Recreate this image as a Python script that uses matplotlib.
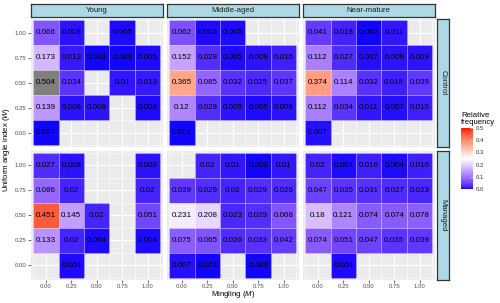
import numpy as np
import matplotlib
matplotlib.use("Agg")
import matplotlib.pyplot as plt
from matplotlib.colors import ListedColormap
from matplotlib.patches import Rectangle
from matplotlib.cm import ScalarMappable
from matplotlib.colors import Normalize

plt.rcParams['font.family'] = ['Liberation Sans', 'DejaVu Sans']
plt.rcParams['mathtext.fontset'] = 'custom'
plt.rcParams['mathtext.rm'] = 'Liberation Sans'
plt.rcParams['mathtext.it'] = 'Liberation Sans:italic'

mingling = [0.0, 0.25, 0.5, 0.75, 1.0]
uai = [1.0, 0.75, 0.5, 0.25, 0.0]   # rows top to bottom
stands = ["Young", "Middle-aged", "Near-mature"]
treatments = ["Control", "Managed"]
nan = np.nan

control_young = [
    [0.066, 0.008, nan, 0.005, nan],
    [0.173, 0.013, 0.003, 0.003, 0.005],
    [0.504, 0.034, nan, 0.01, 0.013],
    [0.139, 0.008, 0.008, nan, 0.005],
    [0.003, nan, nan, nan, nan],
]
control_middle = [
    [0.062, 0.005, 0.005, nan, nan],
    [0.152, 0.028, 0.005, 0.009, 0.016],
    [0.365, 0.085, 0.032, 0.025, 0.037],
    [0.12, 0.028, 0.009, 0.005, 0.009],
    [0.002, nan, nan, nan, nan],
]
control_near = [
    [0.041, 0.018, 0.002, 0.011, nan],
    [0.112, 0.027, 0.007, 0.009, 0.009],
    [0.374, 0.114, 0.032, 0.016, 0.039],
    [0.112, 0.034, 0.011, 0.007, 0.016],
    [0.007, nan, nan, nan, nan],
]
managed_young = [
    [0.027, 0.008, nan, nan, 0.008],
    [0.086, 0.02, nan, nan, 0.02],
    [0.451, 0.145, 0.02, nan, 0.051],
    [0.133, 0.02, 0.004, nan, 0.004],
    [nan, 0.004, nan, nan, nan],
]
managed_middle = [
    [nan, 0.02, 0.01, 0.003, 0.01],
    [0.039, 0.029, 0.02, 0.029, 0.026],
    [0.231, 0.208, 0.023, 0.029, 0.068],
    [0.075, 0.065, 0.026, 0.033, 0.042],
    [0.007, 0.003, nan, 0.003, nan],
]
managed_near = [
    [0.02, 0.004, 0.016, 0.004, 0.016],
    [0.047, 0.035, 0.031, 0.027, 0.023],
    [0.18, 0.121, 0.074, 0.074, 0.078],
    [0.074, 0.051, 0.047, 0.035, 0.039],
    [nan, 0.004, nan, nan, nan],
]
panels = {
    ("Control", "Young"): control_young,
    ("Control", "Middle-aged"): control_middle,
    ("Control", "Near-mature"): control_near,
    ("Managed", "Young"): managed_young,
    ("Managed", "Middle-aged"): managed_middle,
    ("Managed", "Near-mature"): managed_near,
}

# ---- Lab-interpolated diverging colormap (blue - white - red), like gradient2
def srgb_to_lab(c):
    c = np.asarray(c, float)
    lin = np.where(c <= 0.04045, c / 12.92, ((c + 0.055) / 1.055) ** 2.4)
    M = np.array([[0.4124, 0.3576, 0.1805],
                  [0.2126, 0.7152, 0.0722],
                  [0.0193, 0.1192, 0.9505]])
    xyz = M @ lin
    wp = np.array([0.95047, 1.0, 1.08883])
    t = xyz / wp
    f = np.where(t > (6/29)**3, np.cbrt(t), t / (3*(6/29)**2) + 4/29)
    return np.array([116*f[1]-16, 500*(f[0]-f[1]), 200*(f[1]-f[2])])

def lab_to_srgb(lab):
    L, a, b = lab
    fy = (L + 16) / 116
    fx = fy + a / 500
    fz = fy - b / 200
    def finv(t):
        return np.where(t > 6/29, t**3, 3*(6/29)**2*(t - 4/29))
    wp = np.array([0.95047, 1.0, 1.08883])
    xyz = np.array([finv(fx), finv(fy), finv(fz)]) * wp
    Minv = np.array([[3.2406, -1.5372, -0.4986],
                     [-0.9689, 1.8758, 0.0415],
                     [0.0557, -0.2040, 1.0570]])
    lin = Minv @ xyz
    lin = np.clip(lin, 0, 1)
    c = np.where(lin <= 0.0031308, 12.92*lin, 1.055*lin**(1/2.4) - 0.055)
    return np.clip(c, 0, 1)

lab_lo = srgb_to_lab([0, 0, 1])
lab_mid = srgb_to_lab([1, 1, 1])
lab_hi = srgb_to_lab([1, 0, 0])
cols = []
N = 256
for i in range(N):
    t = i / (N - 1)
    if t <= 0.5:
        u = t / 0.5
        lab = lab_lo + (lab_mid - lab_lo) * u
    else:
        u = (t - 0.5) / 0.5
        lab = lab_mid + (lab_hi - lab_mid) * u
    cols.append(lab_to_srgb(lab))
cmap = ListedColormap(cols)
vmin, vmax = 0.0, 0.5
norm = Normalize(vmin, vmax)

W, H = 500, 303
fig = plt.figure(figsize=(W/100, H/100), dpi=100)

def fx(px):
    return px / W
def fy(py):
    return 1 - py / H

col_x0 = [31, 167, 303]
panel_w = 131.5
row_y0 = [18.5, 151]
panel_h = 128.5
pad = 0.02
lim = (-0.125 - pad, 1.125 + pad)

for r, trt in enumerate(treatments):
    for c, st in enumerate(stands):
        x0 = col_x0[c]; y0 = row_y0[r]
        ax = fig.add_axes([fx(x0), fy(y0 + panel_h), panel_w / W, panel_h / H])
        ax.set_facecolor("#EBEBEB")
        ax.set_xlim(*lim); ax.set_ylim(*lim)
        for s in ax.spines.values():
            s.set_visible(False)
        ax.set_xticks(mingling)
        ax.set_yticks(uai[::-1])
        ax.set_xticks([-0.125, 0.125, 0.375, 0.625, 0.875, 1.125], minor=True)
        ax.set_yticks([-0.125, 0.125, 0.375, 0.625, 0.875, 1.125], minor=True)
        ax.grid(True, which="major", color="white", lw=0.8)
        ax.grid(True, which="minor", color="white", lw=0.4)
        ax.set_axisbelow(True)
        ax.tick_params(which="minor", length=0)
        ax.tick_params(which="major", length=2, width=0.5, color="#333333",
                       labelsize=4.3, labelcolor="#4D4D4D", pad=1.2)
        if r == 1:
            ax.set_xticklabels([f"{v:.2f}" for v in mingling])
        else:
            ax.tick_params(axis="x", length=0, labelbottom=False)
        if c == 0:
            ax.set_yticklabels([f"{v:.2f}" for v in uai[::-1]])
        else:
            ax.tick_params(axis="y", length=0, labelleft=False)
        data = panels[(trt, st)]
        for i, wv in enumerate(uai):
            for j, mv in enumerate(mingling):
                v = data[i][j]
                if np.isnan(v):
                    continue
                color = "#7F7F7F" if v > vmax else cmap(norm(v))
                ax.add_patch(Rectangle((mv - 0.125, wv - 0.125), 0.25, 0.25,
                                       facecolor=color, edgecolor=(1, 1, 1, 0.35),
                                       lw=0.4, zorder=2))
                ax.text(mv, wv, str(round(v, 3)), ha="center", va="center",
                        fontsize=5.8, color="black", zorder=3)
        # top strip
        if r == 0:
            sax = fig.add_axes([fx(x0), fy(16.7), panel_w / W, 12.5 / H])
            sax.set_xticks([]); sax.set_yticks([])
            sax.set_facecolor("#ADD8E6")
            for s in sax.spines.values():
                s.set_color("#333333"); s.set_linewidth(0.9)
            sax.text(0.5, 0.5, st, ha="center", va="center", fontsize=5.6,
                     color="#1A1A1A", transform=sax.transAxes)
        if c == 2:
            rax = fig.add_axes([fx(436.5), fy(y0 + panel_h), 12.7 / W, panel_h / H])
            rax.set_xticks([]); rax.set_yticks([])
            rax.set_facecolor("#ADD8E6")
            for s in rax.spines.values():
                s.set_color("#333333"); s.set_linewidth(0.9)
            rax.text(0.5, 0.5, trt, ha="center", va="center", fontsize=5.6,
                     color="#1A1A1A", rotation=-90, transform=rax.transAxes)

# axis titles
fig.text(fx(233), fy(295), r"Mingling ($\it{M}$)", ha="center", va="center",
         fontsize=5.6, color="black")
fig.text(fx(7), fy(149), r"Uniform angle index ($\it{W}$)", ha="center",
         va="center", rotation=90, fontsize=5.6, color="black")

# legend colorbar
cax = fig.add_axes([fx(461), fy(189), 12 / W, 61 / H])
sm = ScalarMappable(norm=norm, cmap=cmap)
cb = fig.colorbar(sm, cax=cax, ticks=[0, 0.1, 0.2, 0.3, 0.4, 0.5])
cb.outline.set_visible(False)
cb.ax.set_yticklabels(["0.0", "0.1", "0.2", "0.3", "0.4", "0.5"])
cb.ax.tick_params(length=2.5, width=0.4, color="white", direction="in",
                  labelsize=4.3, labelcolor="#333333", pad=2)
fig.text(fx(461), fy(119), "Relative\nfrequency", ha="left", va="center",
         fontsize=5.6, color="black", linespacing=1.0)

fig.savefig("out.png", dpi=100)
